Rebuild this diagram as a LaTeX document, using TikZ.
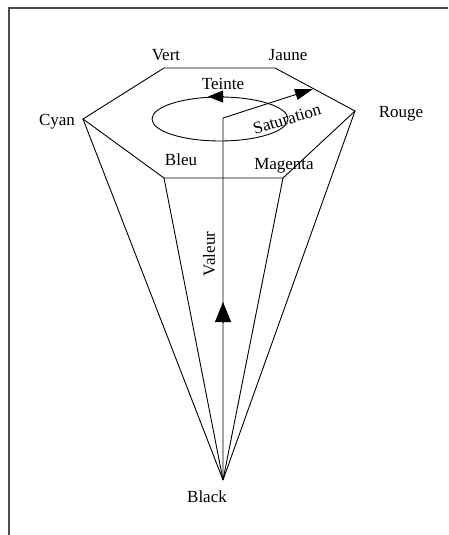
\documentclass[tikz,border=0pt]{standalone}
\usepackage{fontspec}
\setmainfont{Liberation Serif}
\usetikzlibrary{arrows.meta,shapes.geometric}
\begin{document}
\begin{tikzpicture}[x=1pt,y=-1pt,
  lbl/.style={inner sep=0pt,font=\fontsize{17}{20}\selectfont},
  edge/.style={line width=0.9pt,black},
  frame/.style={line width=1.2pt,black!70}]
\useasboundingbox (0,0) rectangle (448,535);
\draw[frame] (9,535) -- (9,8) -- (448,8);
% vertices
\coordinate (vert) at (164,68);
\coordinate (jaune) at (275,68);
\coordinate (rouge) at (355,111);
\coordinate (magenta) at (283,178);
\coordinate (bleu) at (164,178);
\coordinate (cyan) at (83,119);
\coordinate (apex) at (223,480);
\coordinate (axis) at (223,118);
\coordinate (sat) at (313,89);
\coordinate (vtip) at (223,302);
\coordinate (vbase) at (223,322);
% hexagon
\draw[edge,line join=miter] (vert) -- (jaune) -- (rouge) -- (magenta) -- (bleu) -- (cyan) -- cycle;
% cone
\draw[edge] (apex) -- (cyan);
\draw[edge] (apex) -- (bleu);
\draw[edge] (apex) -- (magenta);
\draw[edge] (apex) -- (rouge);
% hue ellipse
\node[draw,line width=0.9pt,ellipse,minimum width=136pt,minimum height=44pt,inner sep=0pt] (ell) at (220,119) {};
\draw[edge,-{Triangle[length=15pt,width=12pt]}] (ell.north) ++(4,0) -- ++(-16,0);
% value axis and saturation
\draw[edge,-{Triangle[length=18pt,width=11pt]}] (apex) -- (axis) -- (sat);
\draw[edge,-{Triangle[length=20pt,width=16pt]}] (vbase) -- (vtip);
% labels
\node[lbl] (lvert) at (166,55) {Vert};
\node[lbl] (ljaune) at (288,55) {Jaune};
\node[lbl] (lcyan) at (57,122) {Cyan};
\node[lbl] (lrouge) at (401,114) {Rouge};
\node[lbl] (lbleu) at (181,160) {Bleu};
\node[lbl] (lmag) at (284,166) {Magenta};
\node[lbl] (lteinte) at (223,84) {Teinte};
\node[lbl,rotate=17] (lsat) at (287,119) {Saturation};
\node[lbl,rotate=90] (lval) at (209,254) {Valeur};
\node[lbl] (lblack) at (207,497) {Black};
\end{tikzpicture}
\end{document}
